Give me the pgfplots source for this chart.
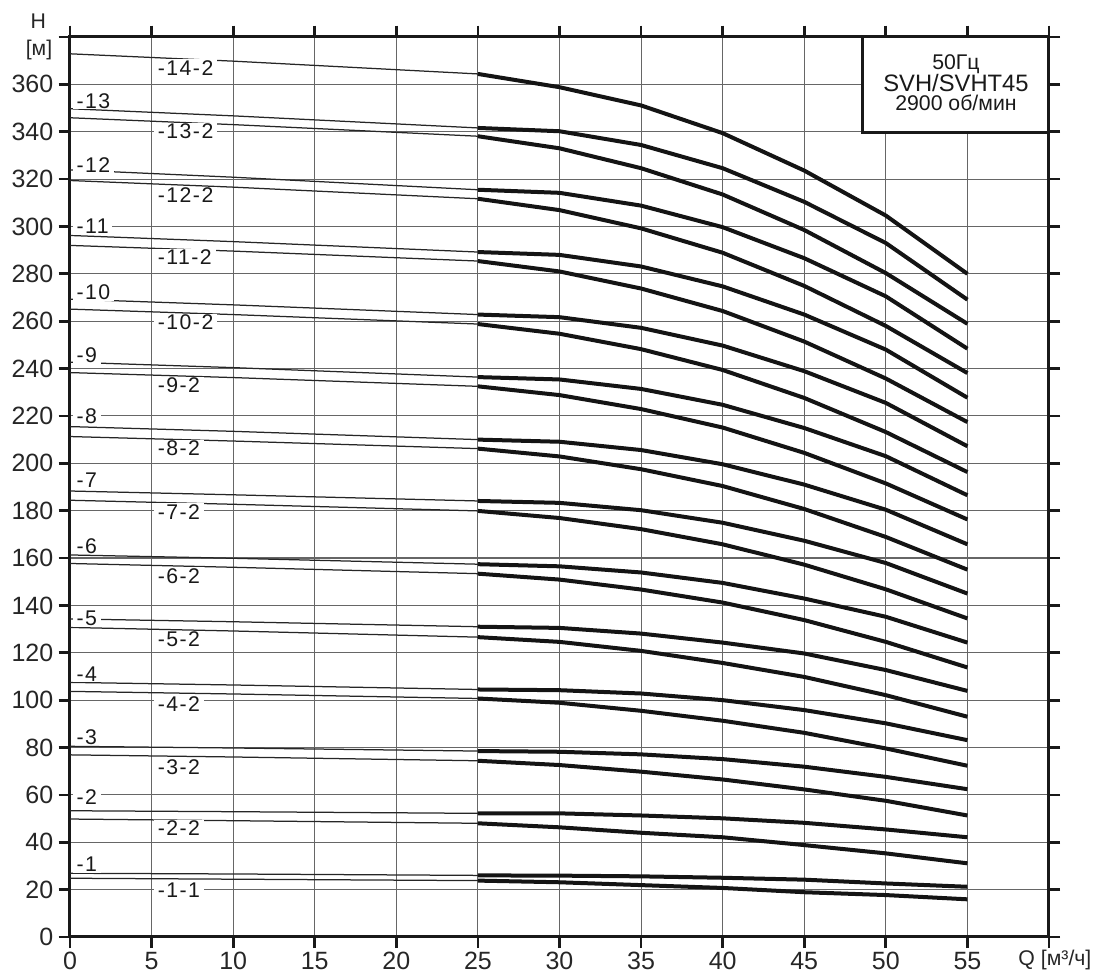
\documentclass[border=0pt]{standalone}
\usepackage{fontspec}
\setmainfont{Liberation Sans}
\usepackage{pgfplots}
\usepackage{pgfplotstable}
\pgfplotsset{compat=1.18}
\newfontfamily\labfont[LetterSpace=7]{Liberation Sans}
\tikzset{lab/.style={fill=white, inner xsep=1.5pt, inner ysep=0.4pt, anchor=west,
              font=\labfont\fontsize{8.5}{10}\selectfont, text=black!90}}

% thin part of the curves (Q = 0 ... 25)
\pgfplotstableread{
x b14 a13 b13 a12 b12 a11 b11 a10 b10 a9 b9 a8 b8 a7 b7 a6 b6 a5 b5 a4 b4 a3 b3 a2 b2 a1 b1
0 372.9 349.7 345.9 323.9 319.4 296.2 292.0 269.3 265.1 242.7 238.3 215.5 211.3 188.3 184.4 161.3 157.7 134.3 130.7 107.5 103.7 80.5 76.9 53.3 49.8 26.9 24.8
10 369.8 346.7 343.0 320.8 316.6 293.6 289.6 266.9 262.8 240.4 236.2 213.5 209.4 186.7 182.7 159.9 156.1 133.1 129.2 106.4 102.6 79.8 76.0 52.9 49.1 26.6 24.4
25 364.4 341.6 338.1 315.5 311.7 289.2 285.4 262.8 258.8 236.4 232.5 210.0 206.2 184.1 179.9 157.4 153.4 131.0 126.6 104.5 100.7 78.5 74.4 52.2 48.0 26.0 23.8
}\thintab

% thick part of the curves (Q = 25 ... 55)
\pgfplotstableread{
x b14 a13 b13 a12 b12 a11 b11 a10 b10 a9 b9 a8 b8 a7 b7 a6 b6 a5 b5 a4 b4 a3 b3 a2 b2 a1 b1
25 364.4 341.6 338.1 315.5 311.7 289.2 285.4 262.8 258.8 236.4 232.5 210.0 206.2 184.1 179.9 157.4 153.4 131.0 126.6 104.5 100.7 78.5 74.4 52.2 48.0 26.0 23.8
30 358.8 340.2 333.0 314.2 306.9 288.0 281.0 261.7 254.7 235.4 228.8 209.1 202.9 183.3 176.9 156.5 150.9 130.5 124.6 104.2 98.9 78.2 72.6 52.2 46.3 25.9 23.1
35 351.1 334.4 324.6 308.8 299.2 283.1 273.8 257.2 248.2 231.4 222.9 205.6 197.5 180.2 172.2 153.9 146.7 128.1 120.8 102.8 95.5 77.1 69.8 51.3 44.0 25.6 21.9
40 339.4 324.6 313.5 299.7 288.9 274.7 264.3 249.7 239.4 224.7 215.1 199.6 190.4 174.9 165.8 149.5 141.2 124.3 115.7 100.0 91.3 75.1 66.5 50.1 42.1 25.0 20.7
45 323.6 310.4 298.5 286.6 274.9 262.8 251.4 238.9 227.6 214.9 204.4 191.0 180.7 167.3 157.2 142.9 133.8 119.7 109.8 95.8 86.2 71.9 62.3 48.2 38.8 24.2 18.9
50 304.6 293.0 280.3 270.5 258.0 248.0 235.8 225.5 213.2 203.0 191.5 180.4 168.9 157.9 146.8 135.2 124.6 112.7 102.1 90.2 79.6 67.6 57.5 45.4 35.3 22.6 17.7
55 280.0 269.1 258.9 248.4 238.1 227.7 217.4 207.2 196.3 186.5 176.3 165.8 155.1 145.0 134.5 124.3 113.8 103.9 93.0 83.1 72.3 62.4 51.3 42.1 31.1 21.2 15.9
}\thicktab

\begin{document}
\begin{tikzpicture}
\useasboundingbox (-28pt,-14.8pt) rectangle (412pt,374.8pt);
\begin{axis}[
  at={(0pt,0pt)}, anchor=south west,
  scale only axis, width=391.6pt, height=360pt,
  xmin=0, xmax=60, ymin=0, ymax=380,
  clip=false,
  xtick={0,5,10,15,20,25,30,35,40,45,50,55,60},
  ytick={0,20,40,60,80,100,120,140,160,180,200,220,240,260,280,300,320,340,360,380},
  xticklabels={0,5,10,15,20,25,30,35,40,45,50,55,{}},
  yticklabels={0,20,40,60,80,100,120,140,160,180,200,220,240,260,280,300,320,340,360,{}},
  /pgf/number format/assume math mode=true,
  tick label style={font=\fontsize{10}{12}\selectfont, black!85},
  xticklabel style={inner ysep=1.5pt},
  yticklabel style={inner xsep=2pt},
  tick align=outside,
  major tick length=4.5pt,
  major tick style={line width=1.1pt, black!90},
  axis line style={line width=1.2pt, black!90},
  grid=major,
  grid style={black!60, line width=0.45pt},
]
\pgfplotsinvokeforeach{b14,a13,b13,a12,b12,a11,b11,a10,b10,a9,b9,a8,b8,a7,b7,a6,b6,a5,b5,a4,b4,a3,b3,a2,b2,a1,b1}{
  \addplot[black!85, line width=0.5pt] table[x=x, y=#1] {\thintab};
  \addplot[black!92, line width=1.6pt] table[x=x, y=#1] {\thicktab};
}

% curve labels
\node[lab] at (axis cs:5.12,367.0) {-14-2\hspace{3pt}};
\node[lab] at (axis cs:0.14,353.0) {-13\hspace{5pt}};
\node[lab] at (axis cs:5.12,340.1) {-13-2\hspace{3pt}};
\node[lab] at (axis cs:0.14,326.0) {-12\hspace{5pt}};
\node[lab] at (axis cs:5.12,313.1) {-12-2\hspace{3pt}};
\node[lab] at (axis cs:0.14,300.0) {-11\hspace{8pt}};
\node[lab] at (axis cs:5.12,286.9) {-11-2\hspace{3pt}};
\node[lab] at (axis cs:0.14,272.2) {-10\hspace{5pt}};
\node[lab] at (axis cs:5.12,259.5) {-10-2\hspace{3pt}};
\node[lab] at (axis cs:0.14,245.6) {-9\hspace{5pt}};
\node[lab] at (axis cs:5.12,232.9) {-9-2\hspace{3pt}};
\node[lab] at (axis cs:0.14,219.8) {-8\hspace{8pt}};
\node[lab] at (axis cs:5.12,206.3) {-8-2\hspace{3pt}};
\node[lab] at (axis cs:0.14,192.8) {-7\hspace{5pt}};
\node[lab] at (axis cs:5.12,179.5) {-7-2\hspace{4pt}};
\node[lab] at (axis cs:0.14,165.2) {-6\hspace{5pt}};
\node[lab] at (axis cs:5.12,152.5) {-6-2\hspace{3pt}};
\node[lab] at (axis cs:0.14,134.5) {-5\hspace{5pt}};
\node[lab] at (axis cs:5.12,125.7) {-5-2\hspace{3pt}};
\node[lab] at (axis cs:0.14,111.0) {-4\hspace{5pt}};
\node[lab] at (axis cs:5.12,98.2) {-4-2\hspace{4pt}};
\node[lab] at (axis cs:0.14,84.5) {-3\hspace{5pt}};
\node[lab] at (axis cs:5.12,71.9) {-3-2\hspace{3pt}};
\node[lab] at (axis cs:0.14,59.0) {-2\hspace{8pt}};
\node[lab] at (axis cs:5.12,45.9) {-2-2\hspace{3pt}};
\node[lab] at (axis cs:0.14,30.7) {-1\hspace{5pt}};
\node[lab] at (axis cs:5.12,19.9) {-1-1\hspace{5pt}};

% info box
\draw[line width=1.2pt, black!90, fill=white] (axis cs:48.6,339.7) rectangle (axis cs:60,380);
\node[font=\fontsize{8.5}{10}\selectfont, text=black!90, inner sep=0pt] at (axis cs:54.3,368.4) {50Гц};
\node[font=\fontsize{9.5}{11}\selectfont, text=black!90, inner sep=0pt] at (axis cs:54.3,360.4) {SVH/SVHT45};
\node[font=\fontsize{8.5}{10}\selectfont, text=black!90, inner sep=0pt] at (axis cs:54.3,352.2) {2900 об/мин};

% axis titles
\node[font=\fontsize{8.5}{10}\selectfont, text=black!85] at (axis cs:-1.95,386.8) {H};
\node[font=\fontsize{8.5}{10}\selectfont, text=black!85] at (axis cs:-1.9,374.7) {[м]};
\node[font=\fontsize{8.5}{10}\selectfont, text=black!85, anchor=west, inner sep=0pt] at (axis cs:58.1,-9.8) {Q [м³/ч]};
\end{axis}
\end{tikzpicture}
\end{document}
